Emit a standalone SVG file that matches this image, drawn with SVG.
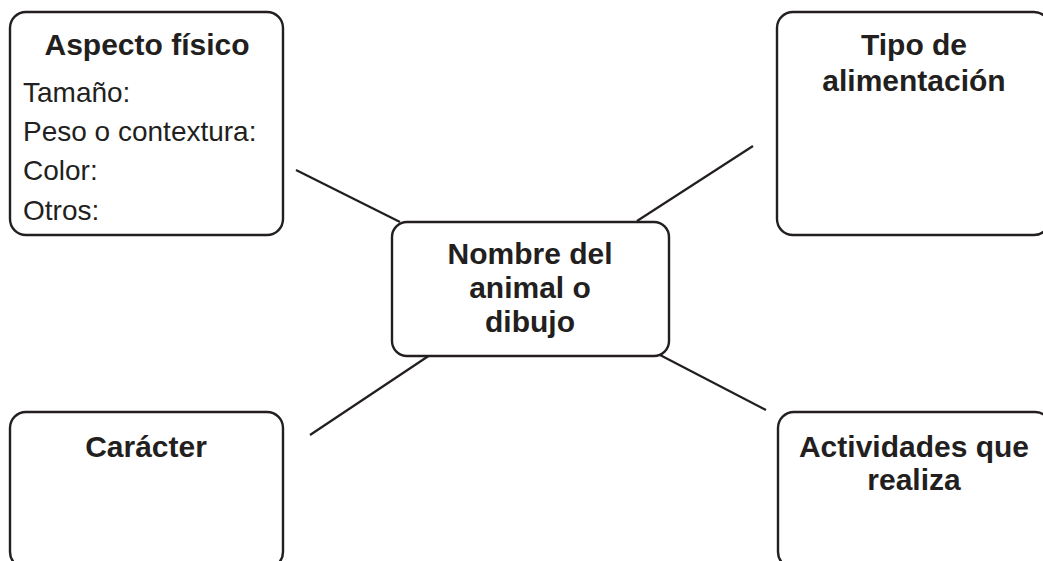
<svg xmlns="http://www.w3.org/2000/svg" width="1043" height="561" viewBox="0 0 1043 561">
<style>
.box{fill:#fff;stroke:#231f20;stroke-width:2.4}
.con{stroke:#231f20;stroke-width:2.2;fill:none}
.t{font-family:"Liberation Sans",Arial,sans-serif;fill:#231f20}
.b{font-weight:bold;font-size:30px;text-anchor:middle}
.r{font-size:28px}
</style>
<rect width="1043" height="561" fill="#fff"/>
<g id="connectors">
<line class="con" x1="296" y1="170" x2="400" y2="222"/>
<line class="con" x1="753" y1="146" x2="637" y2="221"/>
<line class="con" x1="310" y1="435" x2="430" y2="355"/>
<line class="con" x1="660" y1="355" x2="766" y2="410"/>
</g>
<g id="aspecto">
<rect class="box" x="10" y="12" width="273" height="223" rx="16"/>
<text class="t b" x="147" y="55">Aspecto físico</text>
<text class="t r" x="23" y="102">Tamaño:</text>
<text class="t r" x="23" y="141">Peso o contextura:</text>
<text class="t r" x="23" y="180">Color:</text>
<text class="t r" x="23" y="220">Otros:</text>
</g>
<g id="alimentacion">
<rect class="box" x="777" y="12" width="273" height="223" rx="16"/>
<text class="t b" x="914" y="55">Tipo de</text>
<text class="t b" x="914" y="91">alimentación</text>
</g>
<g id="centro">
<rect class="box" x="392" y="222" width="277" height="134" rx="15"/>
<text class="t b" x="530" y="264">Nombre del</text>
<text class="t b" x="530" y="298">animal o</text>
<text class="t b" x="530" y="332">dibujo</text>
</g>
<g id="caracter">
<rect class="box" x="10" y="412" width="273" height="156" rx="16"/>
<text class="t b" x="146" y="457">Carácter</text>
</g>
<g id="actividades">
<rect class="box" x="778" y="412" width="273" height="156" rx="16"/>
<text class="t b" x="914" y="457">Actividades que</text>
<text class="t b" x="914" y="490">realiza</text>
</g>
</svg>
